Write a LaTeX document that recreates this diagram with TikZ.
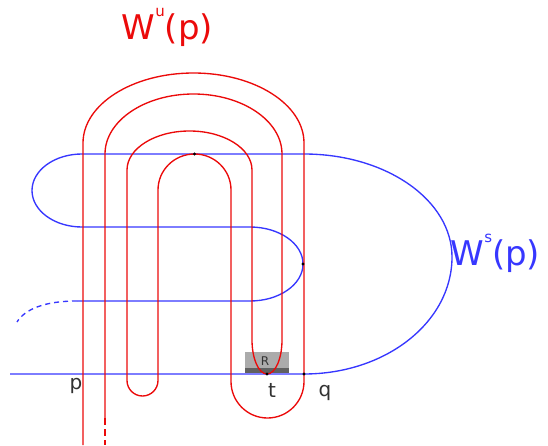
\documentclass[tikz,border=0pt]{standalone}
\usepackage{fontspec}
\setmainfont{DejaVu Sans}
\definecolor{wured}{RGB}{235,10,10}
\definecolor{wsblue}{RGB}{55,55,255}
\definecolor{lblgray}{RGB}{50,50,50}

\begin{document}
\begin{tikzpicture}[x=1pt, y=1pt, line width=1.35pt,
    unstable/.style={draw=wured},
    stable/.style={draw=wsblue},
    lbl/.style={text=lblgray, inner sep=0pt, anchor=base, font=\fontsize{20}{22}\selectfont}]
    \useasboundingbox (0,0) rectangle (548,445);
    % the box R
    \fill[black!33] (245,72) rectangle (289,93);
    \fill[black!62] (245,72) rectangle (289,77);
    \node[text=lblgray, inner sep=0pt, anchor=base, font=\fontsize{12}{13}\selectfont] (r) at (265,80) {R};
    % stable manifold
    \draw[stable] (10,71) -- (304,71)
        .. controls (386,71) and (452,123) .. (452,188)
        .. controls (452,245) and (386,291) .. (304,291) -- (82,291)
        arc[start angle=90, end angle=270, x radius=50, y radius=36.5] -- (250,218)
        arc[start angle=90, end angle=-90, x radius=53, y radius=37] -- (77,144);
    \draw[stable, dash pattern=on 5pt off 4pt] (77,144) .. controls (45,144) and (25,136) .. (17,123);
    % unstable manifold
    \draw[unstable] (83,0) -- (83,302)
        arc[start angle=180, end angle=0, x radius=110.5, y radius=70] -- (304,63.5)
        arc[start angle=0, end angle=-180, radius=36.5] -- (231,255)
        arc[start angle=0, end angle=180, x radius=36.5, y radius=36] -- (158,64.5)
        arc[start angle=0, end angle=-180, radius=15.5] -- (127,275)
        arc[start angle=180, end angle=0, x radius=62.5, y radius=39] -- (252,105)
        arc[start angle=180, end angle=360, x radius=15, y radius=34] -- (282,291)
        arc[start angle=0, end angle=180, x radius=88.5, y radius=60] -- (105,27);
    \draw[unstable, dash pattern=on 7pt off 4pt] (105,27) -- (105,0);
    % tangencies and points
    \fill (194.5,291) circle (1.7);
    \fill (303,181) circle (1.7);
    \fill (267,71) circle (1.7);
    \fill (304,71) circle (1.7);
    \node[lbl] (p) at (76,56) {p};
    \node[lbl] (t) at (272,48) {t};
    \node[lbl] (q) at (325,49) {q};
    % names of the manifolds
    \node[text=wured, inner sep=0pt, anchor=base west, font=\fontsize{34}{36}\selectfont] (wu) at (121,405)
        {W\raisebox{23pt}{\fontsize{15}{16}\selectfont u}(p)};
    \node[text=wsblue, inner sep=0pt, anchor=base west, font=\fontsize{34}{36}\selectfont] (ws) at (450,180)
        {W\raisebox{23pt}{\fontsize{15}{16}\selectfont s}(p)};
\end{tikzpicture}
\end{document}
